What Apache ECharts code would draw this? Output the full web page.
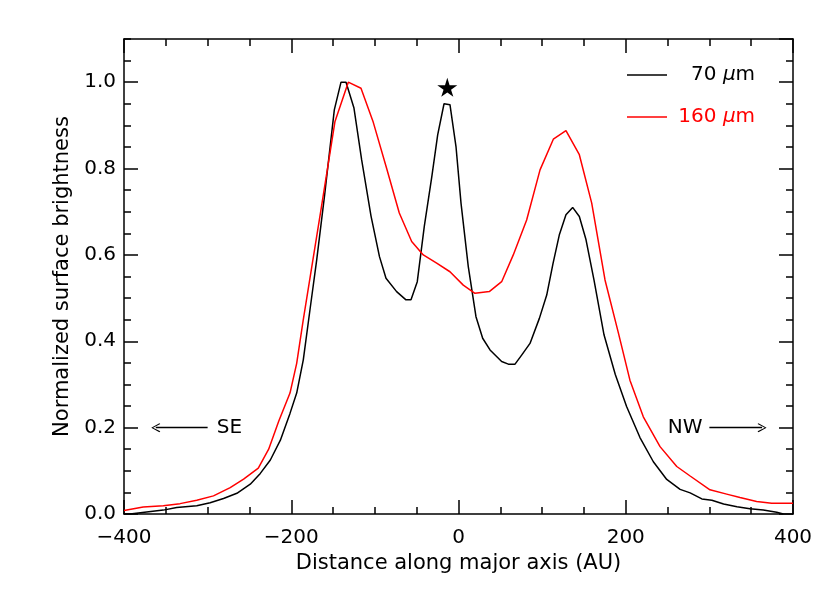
<!DOCTYPE html>
<html>
<head>
<meta charset="utf-8">
<script src="https://cdn.jsdelivr.net/npm/echarts@6/dist/echarts.min.js"></script>
<style>html,body{margin:0;padding:0;background:#fff}#c{width:830px;height:593px}</style>
</head>
<body>
<div id="c"></div>
<script>
// 70 micron profile: [distance AU, normalized brightness]
const black70 = [
  [-400,0.0],[-392.8,0.0],[-353,0.009],[-337,0.015],[-313,0.019],[-297,0.026],[-281,0.036],
  [-265,0.048],[-249,0.069],[-237,0.094],[-225,0.125],[-213,0.171],[-201.5,0.233],[-193.5,0.28],
  [-185.6,0.357],[-177.6,0.473],[-169.6,0.588],[-160,0.74],[-148.5,0.936],[-140.5,1.0],[-134.5,1.0],
  [-125,0.94],[-115.8,0.82],[-104.6,0.69],[-94.5,0.596],[-86.7,0.546],[-74,0.515],[-62.8,0.496],
  [-56.8,0.496],[-49.3,0.538],[-40.9,0.666],[-32,0.78],[-24.9,0.878],[-17.3,0.95],[-10.2,0.948],
  [-3,0.851],[3,0.72],[11.7,0.573],[20.9,0.457],[28.9,0.407],[37.7,0.38],[51.6,0.353],[59.6,0.347],
  [67.6,0.347],[75.5,0.368],[85.5,0.395],[96.7,0.453],[105.5,0.507],[113,0.58],[120.5,0.646],
  [128.5,0.693],[136.5,0.71],[144.5,0.689],[152.5,0.635],[162,0.542],[174,0.415],[187.5,0.323],
  [201,0.249],[217,0.177],[233,0.121],[249,0.08],[265,0.057],[277,0.049],[291,0.035],[303,0.032],
  [317,0.023],[333,0.017],[348.5,0.012],[364.5,0.009],[380.5,0.004],[388.4,0.0]
];
// 160 micron profile
const red160 = [
  [-400,0.008],[-377,0.016],[-353,0.019],[-333,0.024],[-313,0.032],[-293,0.042],[-273,0.061],
  [-257,0.081],[-239.4,0.106],[-227,0.15],[-215,0.215],[-201.5,0.28],[-193.5,0.349],[-185.6,0.45],
  [-164,0.71],[-147.7,0.909],[-131.8,1.0],[-116.6,0.986],[-101.9,0.907],[-85.9,0.80],[-70.8,0.697],
  [-56,0.631],[-42.1,0.60],[-26.1,0.581],[-10.2,0.561],[5.7,0.53],[19.7,0.511],[36.8,0.515],
  [51.6,0.538],[65.5,0.6],[81.5,0.681],[97.5,0.797],[113.4,0.868],[128.5,0.888],[144.5,0.832],
  [159.3,0.72],[175.2,0.542],[191.1,0.42],[205,0.31],[221,0.225],[241,0.156],[261,0.11],[277,0.088],
  [300.7,0.056],[320.7,0.046],[336.6,0.038],[356.5,0.029],[374.5,0.025],[400,0.025]
];
const starPos = [[-13.4, 0.988]];
const seArrow = [[-300, 0.2], [-362, 0.2]];
const nwArrow = [[300, 0.2], [363, 0.2]];
const seLabel = [-274, 0.2];
const nwLabel = [271, 0.2];
const seriesNames = ['70 μm', '160 μm'];
const xTitle = 'Distance along major axis (AU)';
const yTitle = 'Normalized surface brightness';

const FONT = 'DejaVu Sans';
const FS = 20;
const FT = 21;
const chart = echarts.init(document.getElementById('c'), null, {renderer: 'canvas'});
const axLine = {show: true, onZero: false, lineStyle: {color: '#000', width: 1.5}};
const noLine = {show: false, onZero: false};
const minus = v => String(v).replace('-', '\u2212');
const yFmt = v => v.toFixed(1);
const tk = (len) => ({inside: true, length: len, lineStyle: {color: '#000', width: 1.5}});

const option = {
  backgroundColor: '#fff',
  animation: false,
  grid: {left: 124, right: 37, top: 39, bottom: 79, containLabel: false},
  legend: {
    left: 627, top: 64, orient: 'vertical', padding: 0, itemGap: 20,
    itemWidth: 40, itemHeight: 1.5, icon: 'rect',
    data: [
      {name: seriesNames[0], textStyle: {color: '#000'}},
      {name: seriesNames[1], textStyle: {color: '#ff0000'}}
    ],
    formatter: n => n === seriesNames[0] ? '{n|\u2007 70 }{i|μ}{n|m}' : '{n| 160 }{i|μ}{n|m}',
    textStyle: {
      fontFamily: FONT, fontSize: FS, lineHeight: 22,
      rich: {n: {fontFamily: FONT, fontSize: FS}, i: {fontFamily: FONT, fontSize: FS, fontStyle: 'italic'}}
    }
  },
  xAxis: [
    {type: 'value', min: -400, max: 400, interval: 200, position: 'bottom',
     name: xTitle, nameLocation: 'middle', nameGap: 39,
     nameTextStyle: {fontFamily: FONT, fontSize: FT, color: '#000'},
     axisLine: axLine, splitLine: {show: false},
     axisTick: tk(14),
     minorTick: {show: true, splitNumber: 4, length: 7, lineStyle: {color: '#000', width: 1.5}},
     axisLabel: {margin: 14, fontFamily: FONT, fontSize: FS, color: '#000', formatter: minus}},
    {type: 'value', min: -400, max: 400, interval: 200, position: 'top',
     axisLine: axLine, splitLine: {show: false},
     axisTick: tk(14),
     minorTick: {show: true, splitNumber: 4, length: 7, lineStyle: {color: '#000', width: 1.5}},
     axisLabel: {show: false}}
  ],
  yAxis: [
    {type: 'value', min: 0, max: 1.1, interval: 0.2, position: 'left',
     name: yTitle, nameLocation: 'middle', nameGap: 51,
     nameTextStyle: {fontFamily: FONT, fontSize: FT, color: '#000'},
     axisLine: axLine, splitLine: {show: false},
     axisTick: tk(14),
     axisLabel: {margin: 8, fontFamily: FONT, fontSize: FS, color: '#000', formatter: yFmt, showMaxLabel: false}},
    {type: 'value', min: 0, max: 1.1, interval: 0.05, position: 'left',
     axisLine: noLine, splitLine: {show: false},
     axisTick: tk(7), axisLabel: {show: false}},
    {type: 'value', min: 0, max: 1.1, interval: 0.2, position: 'right',
     axisLine: axLine, splitLine: {show: false},
     axisTick: tk(14), axisLabel: {show: false}},
    {type: 'value', min: 0, max: 1.1, interval: 0.05, position: 'right',
     axisLine: noLine, splitLine: {show: false},
     axisTick: tk(7), axisLabel: {show: false}}
  ],
  series: [
    {name: seriesNames[0], type: 'line', data: black70, symbol: 'none', color: '#000',
     lineStyle: {color: '#000', width: 1.5}},
    {name: seriesNames[1], type: 'line', data: red160, symbol: 'none', color: '#ff0000',
     lineStyle: {color: '#ff0000', width: 1.5}},
    {name: 'star', type: 'scatter', data: starPos, symbol: 'path://M50,0 L61,35 L98,35 L68,57 L79,91 L50,70 L21,91 L32,57 L2,35 L39,35 Z',
     symbolSize: [20, 19], itemStyle: {color: '#000', opacity: 1}, silent: true},
    {name: 'annot', type: 'line', data: [], silent: true,
     markLine: {
       silent: true, animation: false,
       symbol: ['none', 'path://M5,0 L10,9 L9,10 L5,2 L1,10 L0,9 Z'], symbolSize: [9, 9],
       lineStyle: {color: '#000', width: 1.3, type: 'solid'},
       label: {show: false},
       data: [
         [{coord: seArrow[0]}, {coord: seArrow[1]}],
         [{coord: nwArrow[0]}, {coord: nwArrow[1]}]
       ]
     },
     markPoint: {
       silent: true, symbol: 'circle', symbolSize: 0,
       label: {show: true, position: 'inside', fontFamily: FONT, fontSize: FS, color: '#000',
               formatter: p => p.name},
       data: [{name: 'SE', coord: seLabel}, {name: 'NW', coord: nwLabel}]
     }}
  ]
};
chart.setOption(option);
</script>
</body>
</html>
